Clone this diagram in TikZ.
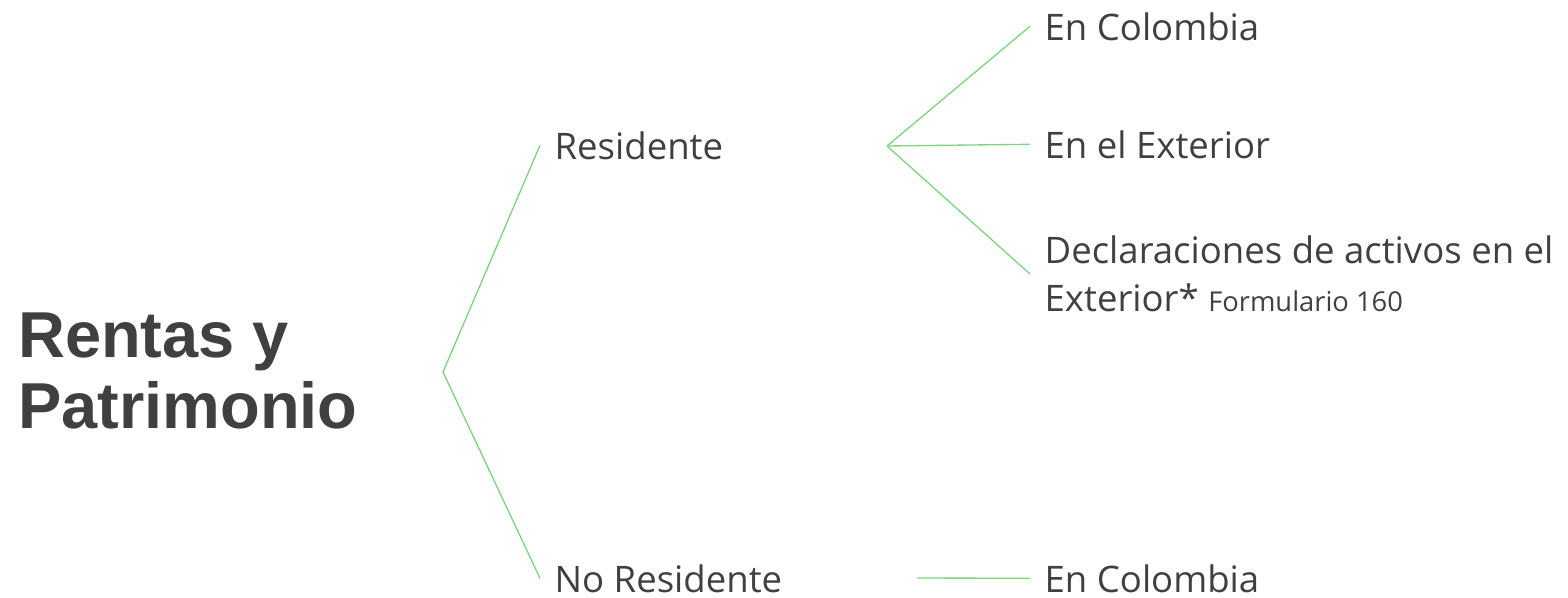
\documentclass[tikz,border=0pt]{standalone}
\usepackage{fontspec}
\setmainfont{Open Sans}
\newfontfamily\titlefont{Liberation Sans}
\usepackage{tikz}

\definecolor{txtgray}{RGB}{64,64,64}
\definecolor{branchgreen}{RGB}{128,212,128}

\tikzset{
  leaf/.style={inner sep=0pt, outer xsep=11pt, outer ysep=0pt, text=txtgray,
    font=\fontsize{27.4}{36}\selectfont},
  branch/.style={draw=branchgreen, line width=1pt},
}

\begin{document}
\begin{tikzpicture}[x=0.75pt, y=-0.75pt]
\useasboundingbox (0,0) rectangle (1568,597);
% left: title
\node (root) [anchor=west, inner sep=0pt, align=left, text=txtgray,
  font=\titlefont\bfseries\fontsize{48.7}{53.25}\selectfont] at (18,371) {Rentas y\\Patrimonio};
% forks
\coordinate (rootfork) at (443,372);
\coordinate (resfork) at (887,146);
\coordinate (nofork) at (917,578);
% middle level
\node (res) [leaf, anchor=base west] at (540,159) {Residente};
\node (nores) [leaf, anchor=base west] at (540,592) {No Residente};
% right level
\node (col) [leaf, anchor=base west] at (1030,40) {En Colombia};
\node (ext) [leaf, anchor=base west] at (1030,158) {En el Exterior};
\node (decl) [leaf, anchor=west, align=left] at (1030,274)
  {Declaraciones de activos en el\\Exterior* {\fontsize{20.5}{36}\selectfont Formulario 160}};
\node (nocol) [leaf, anchor=base west] at (1030,592) {En Colombia};
% connectors
\draw [branch] (res.west) -- (rootfork) -- (nores.west);
\draw [branch] (resfork) -- (col.west);
\draw [branch] (resfork) -- (ext.west);
\draw [branch] (resfork) -- (decl.west);
\draw [branch] (nofork) -- (nocol.west);
\end{tikzpicture}
\end{document}
